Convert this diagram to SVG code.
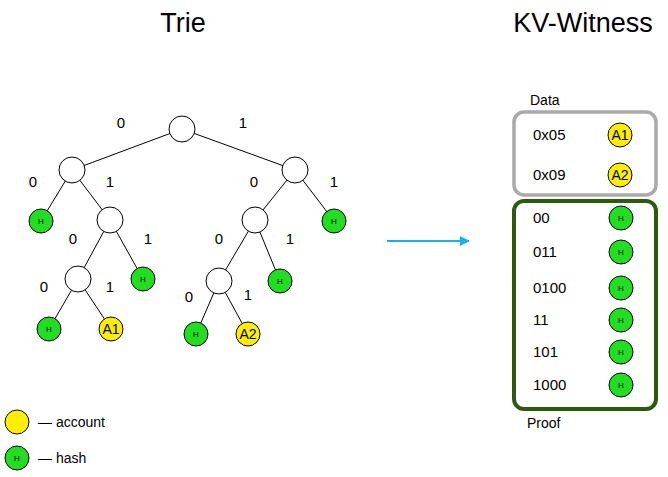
<svg xmlns="http://www.w3.org/2000/svg" width="668" height="477" viewBox="0 0 668 477">
<style>
text{font-family:"Liberation Sans",Arial,sans-serif;fill:#000}
.lbl{font-size:15px;text-anchor:middle}
.n{fill:#fff;stroke:#000;stroke-width:1}
.h{fill:#22dd22;stroke:#000;stroke-width:1}
.a{fill:#ffee00;stroke:#000;stroke-width:1}
.ht{font-size:8px;text-anchor:middle}
.at{font-size:14px;text-anchor:middle}
.e{stroke:#000;stroke-width:1;fill:none}
.k{font-size:15px}
</style>
<defs>
<marker id="ar" markerWidth="10" markerHeight="10" refX="9" refY="5" orient="auto" markerUnits="userSpaceOnUse"><path d="M0,0 L10,5 L0,10 Z" fill="#1ab0f0"/></marker>
</defs>
<text x="183" y="32" font-size="27" text-anchor="middle">Trie</text>
<text x="583" y="32" font-size="27" text-anchor="middle">KV-Witness</text>
<g id="connectors">
<line class="e" x1="182" y1="129" x2="72" y2="170"/>
<line class="e" x1="182" y1="129" x2="295" y2="170"/>
<line class="e" x1="72" y1="170" x2="41" y2="221"/>
<line class="e" x1="72" y1="170" x2="110" y2="220"/>
<line class="e" x1="110" y1="220" x2="78" y2="279"/>
<line class="e" x1="110" y1="220" x2="143" y2="279"/>
<line class="e" x1="78" y1="279" x2="49" y2="329"/>
<line class="e" x1="78" y1="279" x2="111" y2="329"/>
<line class="e" x1="295" y1="170" x2="255" y2="220"/>
<line class="e" x1="295" y1="170" x2="334" y2="221"/>
<line class="e" x1="255" y1="220" x2="219" y2="281"/>
<line class="e" x1="255" y1="220" x2="280" y2="281"/>
<line class="e" x1="219" y1="281" x2="196" y2="334"/>
<line class="e" x1="219" y1="281" x2="248" y2="334"/>
<line x1="387" y1="241" x2="469" y2="241" stroke="#1ab0f0" stroke-width="2" marker-end="url(#ar)"/>
</g>
<g id="edge-labels">
<text class="lbl" x="121" y="128">0</text><text class="lbl" x="243" y="128">1</text>
<text class="lbl" x="33" y="187">0</text><text class="lbl" x="110" y="187">1</text>
<text class="lbl" x="254" y="187">0</text><text class="lbl" x="334" y="187">1</text>
<text class="lbl" x="73" y="244">0</text><text class="lbl" x="148" y="244">1</text>
<text class="lbl" x="219" y="244">0</text><text class="lbl" x="290" y="244">1</text>
<text class="lbl" x="44" y="292">0</text><text class="lbl" x="110" y="292">1</text>
<text class="lbl" x="189" y="302">0</text><text class="lbl" x="248" y="300">1</text>
</g>
<g id="root"><circle class="n" cx="182" cy="129" r="13"/></g>
<g id="n0"><circle class="n" cx="72" cy="170" r="13"/></g>
<g id="n1"><circle class="n" cx="295" cy="170" r="13"/></g>
<g id="n00"><circle class="h" cx="41" cy="221" r="12"/><text class="ht" x="41" y="224">H</text></g>
<g id="n01"><circle class="n" cx="110" cy="220" r="13"/></g>
<g id="n010"><circle class="n" cx="78" cy="279" r="13"/></g>
<g id="n011"><circle class="h" cx="143" cy="279" r="12"/><text class="ht" x="143" y="282">H</text></g>
<g id="n0100"><circle class="h" cx="49" cy="329" r="12"/><text class="ht" x="49" y="332">H</text></g>
<g id="n0101"><circle class="a" cx="111" cy="329" r="12"/><text class="at" x="111" y="334">A1</text></g>
<g id="n10"><circle class="n" cx="255" cy="220" r="13"/></g>
<g id="n11"><circle class="h" cx="334" cy="221" r="12"/><text class="ht" x="334" y="224">H</text></g>
<g id="n100"><circle class="n" cx="219" cy="281" r="13"/></g>
<g id="n101"><circle class="h" cx="280" cy="281" r="12"/><text class="ht" x="280" y="284">H</text></g>
<g id="n1000"><circle class="h" cx="196" cy="334" r="12"/><text class="ht" x="196" y="337">H</text></g>
<g id="n1001"><circle class="a" cx="248" cy="334" r="12"/><text class="at" x="248" y="339">A2</text></g>
<g id="data">
<text x="530" y="105" font-size="14">Data</text>
<rect x="514" y="112" width="142" height="83" rx="10" fill="none" stroke="#aaaaaa" stroke-width="3.5"/>
<text class="k" x="533" y="140">0x05</text><circle class="a" cx="620" cy="135" r="12"/><text class="at" x="620" y="140">A1</text>
<text class="k" x="533" y="180">0x09</text><circle class="a" cx="620" cy="175" r="12"/><text class="at" x="620" y="180">A2</text>
</g>
<g id="proof">
<rect x="514" y="201" width="142" height="208" rx="10" fill="none" stroke="#2d5a0e" stroke-width="4"/>
<text x="527" y="428" font-size="14">Proof</text>
<text class="k" x="533" y="223">00</text><circle class="h" cx="621" cy="218" r="12"/><text class="ht" x="621" y="221">H</text>
<text class="k" x="533" y="257">011</text><circle class="h" cx="621" cy="252" r="12"/><text class="ht" x="621" y="255">H</text>
<text class="k" x="533" y="293">0100</text><circle class="h" cx="621" cy="288" r="12"/><text class="ht" x="621" y="291">H</text>
<text class="k" x="533" y="325">11</text><circle class="h" cx="621" cy="320" r="12"/><text class="ht" x="621" y="323">H</text>
<text class="k" x="533" y="357">101</text><circle class="h" cx="621" cy="352" r="12"/><text class="ht" x="621" y="355">H</text>
<text class="k" x="533" y="390">1000</text><circle class="h" cx="621" cy="385" r="12"/><text class="ht" x="621" y="388">H</text>
</g>
<g id="legend">
<circle class="a" cx="17" cy="422" r="12"/><text x="38" y="427" font-size="14">— account</text>
<circle class="h" cx="17" cy="458" r="12"/><text class="ht" x="17" y="461">H</text><text x="38" y="463" font-size="14">— hash</text>
</g>
</svg>
